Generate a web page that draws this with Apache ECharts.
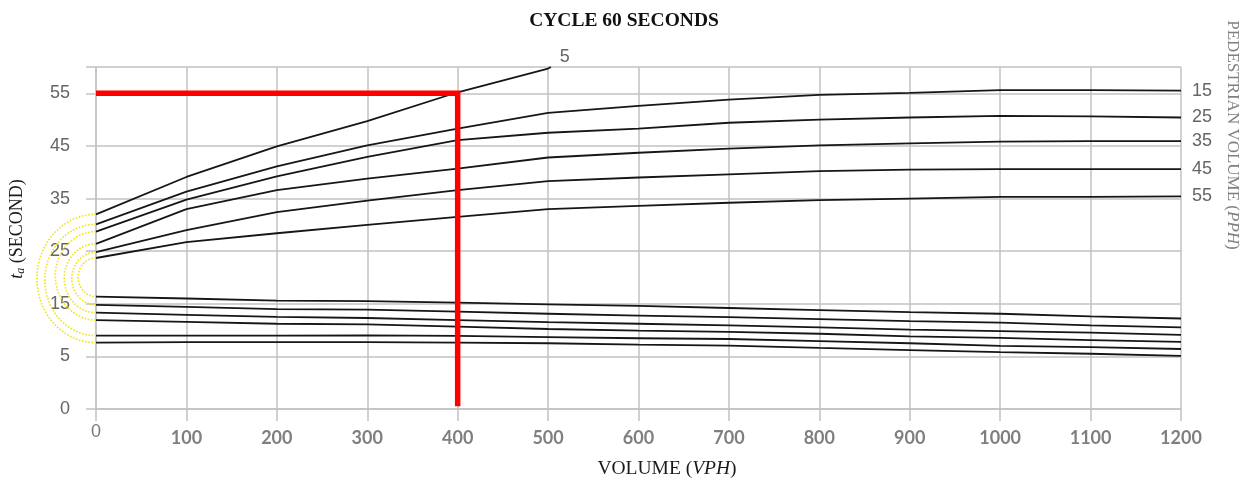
<!DOCTYPE html>
<html>
<head>
<meta charset="utf-8">
<script src="https://cdn.jsdelivr.net/npm/echarts@6/dist/echarts.min.js"></script>
<style>
html,body{margin:0;padding:0;background:#fff;}
#chart{width:1248px;height:484px;}
</style>
</head>
<body>
<div id="chart"></div>
<script>
// ---- data ----
const volume = [0, 100, 200, 300, 400, 500, 600, 700, 800, 900, 1000, 1100, 1200];
const volume5 = [0, 100, 200, 300, 400, 500, 503];
const xTickLabels = ['0', '100', '200', '300', '400', '500', '600', '700', '800', '900', '1000', '1100', '1200'];
const yTickLabels = ['0', '5', '15', '25', '35', '45', '55'];
const pedVolumes = ['5', '15', '25', '35', '45', '55'];

// upper family (t_a, seconds) by pedestrian volume
const upper5  = [32.0, 39.1, 44.9, 49.7, 55.2, 59.7, 60.0];
const upper15 = [30.1, 36.3, 41.1, 45.1, 48.3, 51.3, 52.6, 53.8, 54.7, 55.1, 55.6, 55.6, 55.5];
const upper25 = [28.7, 34.8, 39.2, 42.9, 46.1, 47.5, 48.3, 49.4, 50.0, 50.4, 50.7, 50.6, 50.4];
const upper35 = [26.4, 33.0, 36.6, 38.8, 40.7, 42.8, 43.7, 44.5, 45.1, 45.5, 45.8, 45.9, 45.9];
const upper45 = [24.8, 29.0, 32.4, 34.6, 36.6, 38.3, 39.0, 39.6, 40.2, 40.5, 40.6, 40.6, 40.6];
const upper55 = [23.7, 26.7, 28.4, 30.0, 31.5, 33.0, 33.6, 34.2, 34.7, 35.0, 35.3, 35.3, 35.4];

// lower family, same pedestrian volumes
const lower5  = [7.6, 7.7, 7.7, 7.7, 7.6, 7.5, 7.25, 7.05, 6.6, 6.2, 5.8, 5.5, 5.1];
const lower15 = [8.95, 8.95, 8.95, 9.0, 8.9, 8.65, 8.45, 8.3, 7.9, 7.5, 7.0, 6.75, 6.4];
const lower25 = [11.9, 11.55, 11.2, 11.1, 10.65, 10.2, 9.9, 9.65, 9.3, 8.8, 8.5, 8.1, 7.75];
const lower35 = [13.3, 12.9, 12.5, 12.3, 11.9, 11.5, 11.2, 10.9, 10.5, 10.1, 9.8, 9.5, 9.1];
const lower45 = [14.8, 14.4, 14.0, 13.9, 13.5, 13.1, 12.75, 12.45, 12.1, 11.7, 11.4, 10.9, 10.5];
const lower55 = [16.35, 16.0, 15.6, 15.5, 15.2, 14.9, 14.6, 14.2, 13.8, 13.4, 13.1, 12.6, 12.2];

// red reading line
const redX = [0, 400, 400];
const redY = [55, 55, -4.5];

// ---- chart ----
const GRID = '#c2c2c2';
const CURVE = '#161616';
const SERIF = '"Liberation Serif", "Times New Roman", serif';
const SANS = '"Liberation Sans", Arial, sans-serif';

function pairs(xs, ys) { return ys.map((y, i) => [xs[i], y]); }

const uppers = [upper5, upper15, upper25, upper35, upper45, upper55];
const lowers = [lower5, lower15, lower25, lower35, lower45, lower55];

const series = [];
uppers.forEach((arr, i) => {
  const xs = i === 0 ? volume5 : volume;
  series.push({
    type: 'line', name: 'upper' + pedVolumes[i],
    data: pairs(xs, arr),
    showSymbol: false, silent: true, z: 3,
    lineStyle: { color: CURVE, width: 1.8 },
    endLabel: {
      show: true,
      formatter: pedVolumes[i],
      color: '#666', fontSize: 18, fontFamily: SANS,
      distance: i === 0 ? 9 : 11,
      offset: i === 0 ? [0, -10] : [0, 0]
    }
  });
});
lowers.forEach((arr, i) => {
  series.push({
    type: 'line', name: 'lower' + pedVolumes[i],
    data: pairs(volume, arr),
    showSymbol: false, silent: true, z: 3,
    lineStyle: { color: CURVE, width: 1.8 }
  });
});

// yellow dotted arcs linking each upper curve to its lower line at volume 0
const arcData = uppers.map((u, i) => [volume[0], u[0], lowers[i][0]]);
series.push({
  type: 'custom', name: 'arcs', silent: true, z: 2,
  encode: { x: 0, y: [1, 2] },
  data: arcData,
  renderItem: function (params, api) {
    const p1 = api.coord([api.value(0), api.value(1)]);
    const p2 = api.coord([api.value(0), api.value(2)]);
    const cx = p1[0];
    const cy = (p1[1] + p2[1]) / 2;
    const ry = (p2[1] - p1[1]) / 2;
    const rx = ry * 0.92;
    const k = 0.5523;
    const d = 'M' + cx + ',' + (cy - ry) +
      ' C' + (cx - k * rx) + ',' + (cy - ry) + ' ' + (cx - rx) + ',' + (cy - k * ry) + ' ' + (cx - rx) + ',' + cy +
      ' C' + (cx - rx) + ',' + (cy + k * ry) + ' ' + (cx - k * rx) + ',' + (cy + ry) + ' ' + cx + ',' + (cy + ry);
    return {
      type: 'path',
      shape: { pathData: d },
      style: { fill: 'none', stroke: '#f5e11a', lineWidth: 1.6, lineDash: [1.6, 1.6] }
    };
  }
});

series.push({
  type: 'line', name: 'reading',
  data: pairs(redX, redY),
  showSymbol: false, silent: true, z: 5,
  lineStyle: { color: '#ff0000', width: 5.5, cap: 'butt', join: 'miter' }
});

const chart = echarts.init(document.getElementById('chart'), null, { renderer: 'canvas' });
chart.setOption({
  animation: false,
  backgroundColor: '#ffffff',
  title: {
    text: 'CYCLE 60 SECONDS',
    left: 'center', top: 6,
    textStyle: { fontFamily: SERIF, fontWeight: 'bold', fontSize: 19.5, color: '#111' }
  },
  grid: { left: 96, right: 67, top: 67, bottom: 75, containLabel: false },
  xAxis: {
    type: 'value', min: 0, max: 1200, interval: 100,
    axisLine: { show: true, onZero: false, lineStyle: { color: GRID, width: 1.5 } },
    axisTick: { show: true, length: 12, lineStyle: { color: GRID, width: 1.5 } },
    splitLine: { show: true, lineStyle: { color: GRID, width: 1.5 } },
    axisLabel: {
      margin: 14, verticalAlign: 'top',
      formatter: function (v, idx) {
        const t = xTickLabels[idx] !== undefined ? xTickLabels[idx] : String(v);
        return v === 0 ? '{z|' + t + '}' : '{b|' + t + '}';
      },
      rich: {
        z: { fontFamily: SANS, fontSize: 18, color: '#7a7a7a', lineHeight: 18 },
        b: { fontFamily: 'Lato, "Open Sans", sans-serif', fontWeight: 'bold', fontSize: 18, color: '#7f7f7f', lineHeight: 30 }
      }
    }
  },
  yAxis: {
    type: 'value', min: -5, max: 60, interval: 10,
    axisLine: { show: true, onZero: false, lineStyle: { color: GRID, width: 1.5 } },
    axisTick: { show: true, length: 10, lineStyle: { color: GRID, width: 1.5 } },
    splitLine: { show: true, lineStyle: { color: GRID, width: 1.5 } },
    axisLabel: {
      margin: 26, fontFamily: SANS, fontSize: 18, color: '#666',
      formatter: function (v, idx) {
        return yTickLabels[idx] !== undefined ? yTickLabels[idx] : '';
      }
    }
  },
  graphic: [
    {
      type: 'text', x: 667, y: 469, silent: true,
      style: {
        text: '{n|VOLUME (}{i|VPH}{n|)}',
        align: 'center', verticalAlign: 'middle',
        rich: {
          n: { fontFamily: SERIF, fontSize: 19.5, fill: '#1a1a1a' },
          i: { fontFamily: SERIF, fontSize: 19.5, fontStyle: 'italic', fill: '#1a1a1a' }
        }
      }
    },
    {
      type: 'text', x: 17, y: 229, rotation: Math.PI / 2, silent: true,
      style: {
        text: '{t|t}{s|a}{n| (SECOND)}',
        align: 'center', verticalAlign: 'middle',
        rich: {
          t: { fontFamily: SERIF, fontSize: 18, fontStyle: 'italic', fill: '#1a1a1a', lineHeight: 20 },
          s: { fontFamily: SERIF, fontSize: 12, fontStyle: 'italic', fill: '#1a1a1a', lineHeight: 20, verticalAlign: 'bottom' },
          n: { fontFamily: SERIF, fontSize: 18, fill: '#1a1a1a', lineHeight: 20 }
        }
      }
    },
    {
      type: 'text', x: 1232, y: 135, rotation: -Math.PI / 2, silent: true,
      style: {
        text: '{n|PEDESTRIAN VOLUME (}{i|PPH}{n|)}',
        align: 'center', verticalAlign: 'middle',
        rich: {
          n: { fontFamily: SERIF, fontSize: 17, fill: '#808080' },
          i: { fontFamily: SERIF, fontSize: 17, fontStyle: 'italic', fill: '#808080' }
        }
      }
    }
  ],
  series: series
});
</script>
</body>
</html>
